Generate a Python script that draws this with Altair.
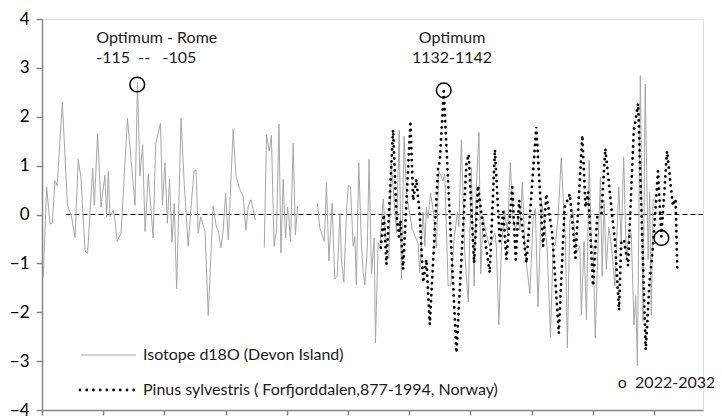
import altair as alt
import pandas as pd

# ---------------- data ----------------
# Isotope d18O (Devon Island); None marks a gap in the record
iso_years = [-495, -481, -467, -458, -447, -438, -417, -396, -379, -365, -352, -341, -324, -314,
             -293, -286, -273, -259, -253, -243, -236, -229, -222, -209, -202, -193, -177, -151,
             -120, -110, -100, -89, -79, -66, -46, -36, -16, -8, 2, 12, 21, 31, 40, 50, 68, 81,
             97, 111, 121, 129, 138, 148, 166, 179, 199, 213, 220, 231, 240, 250, 261, 281, 292,
             308, 322, 333, 342, 353, 372,
             None,
             408, 417, 428, 437, 448, 458, 468, 476, 485, 495, 503, 508, 515, 526, 535, 544,
             None,
             625, 635, 653, 662, 672, 685, 696, 706, 717, 723, 733, 744, 751, 760, 771, 778, 784,
             794, 805, 812, 819, 829, 836, 846, 857, 862, 873, 880, 894, 907, 917, 927, 948, 959,
             968, 979, 989, 1012, 1036, 1043, 1057, 1064, 1070, 1077, 1087, 1098, 1111, 1121,
             1138, 1145, 1159, 1170, 1183, 1197, 1203, 1213, 1227, 1241, 1254, 1265, 1274, 1285,
             1292, 1302, 1315, 1329, 1350, 1356, 1366, 1377, 1390, 1401, 1413, 1424, 1434, 1445,
             1452, 1462, 1472, 1483, 1493, 1506, 1515, 1526, 1540, 1551, 1563, 1577, 1588, 1597,
             1608, 1621, 1632, 1638, 1646, 1656, 1669, 1683, 1697, 1703, 1714, 1724, 1735, 1744,
             1751, 1760, 1771, 1781, 1788, 1796, 1805, 1815, 1826, 1840, 1856, 1866, 1876, 1887,
             1897, 1907, 1918, 1925, 1932, 1944, 1955, 1964, 1976, 1982, 1989, 1996]
iso_values = [-1.29, 0.56, -0.20, -0.17, 0.69, 0.59, 2.30, 0.19, -0.05, -0.48, 1.13, 0.76, -0.75, -0.80,
              0.95, 0.19, 1.66, 0.15, 0.42, 0.80, -0.05, 0.89, -0.05, 0.09, -0.11, -0.55, -0.38, 1.97,
              0.19, 2.70, 0.79, 1.43, -0.35, 0.83, -0.48, 1.43, 1.87, 0.19, 1.06, -0.18, 0.72, -0.57, 0.22, -1.52, 1.97, 0.62,
              -0.65, 0.29, 0.89, 0.91, -0.38, -0.05, -0.35, -2.07, 0.17, -0.28, -0.32, -0.68, -0.32, 0.44, -0.52, 1.74, 0.79,
              0.52, 0.36, -0.32, 0.15, 0.30, -0.11,
              None,
              -0.68, 1.64, 1.30, 1.62, -0.65, -0.32, 1.85, -0.79, 0.72, -0.48, 0.15, -0.05, -0.55, 1.46, -0.42, 0.17,
              None,
              0.23, -0.28, -0.55, 0.64, -0.95, 0.23, -1.32, -1.26, 0.02, -0.92, -1.38, 0.09, 0.59, 0.57, -0.65, -0.45, -1.44,
              1.06, -0.65, -1.19, -1.44, -0.65, 1.13, -1.22, -0.48, -2.63, -0.58, -0.65, 0.32, -0.68, -0.89, 1.06, -0.38, 1.72,
              -1.32, 1.60, 0.42, -0.30, -0.59, -1.19, 0.05, -0.65, 0.15, -0.08, 0.44, 0.09, -0.68, 0.89,
              0.69, 0.83, -1.46, -1.46, -0.52, 0.05, -0.25, 1.53, -0.79, -1.79, 0.96, -1.46, 0.56, 1.68,
              -1.22, -0.05, -0.42, -0.65, -0.38, -0.65, -2.26, -0.65, 0.09, -0.38, 1.06, -0.11, -0.28, -0.05,
              -0.32, 0.66, -0.65, -1.19, -1.62, -0.09, 0.12, -1.89, 0.29, -0.11, -0.65, -2.50, -0.65, -0.62,
              -0.05, 1.16, 0.02, -0.52, -2.73, -0.11, 0.05, -0.79, -0.65, -2.06, -0.55, -2.16, 1.11, -0.60,
              -0.65, -2.53, -0.65, 0.76, -1.26, 0.29, -1.12, -0.25, -0.65, -1.46, 0.57, -0.58, 1.18, -0.92,
              -0.38, -0.38, -2.26, -1.66, -3.10, 2.84, -2.19, 2.67, -0.92, 0.46, -2.06, 0.32]

# Pinus sylvestris (Forfjorddalen)
pinus_years = [884, 896, 907, 934, 948, 958, 964, 975, 1005, 1016, 1029, 1043, 1057, 1070, 1084,
               1118, 1125, 1141, 1193, 1234, 1243, 1265, 1281, 1295, 1329, 1350, 1370, 1384, 1397,
               1421, 1435, 1449, 1479, 1519, 1547, 1560, 1584, 1611, 1635, 1656, 1679, 1707, 1720,
               1731, 1751, 1768, 1785, 1801, 1833, 1840, 1857, 1866, 1877, 1894, 1917, 1935, 1966,
               1982, 1996, 2016, 2030, 2053, 2077, 2088, 2095]
pinus_values = [-0.68, 0.0, -1.02, 1.73, 0.0, -0.45, -0.12, -1.12, 1.91, 0.29, 0.72, 0.0, -1.39, -0.92, -2.25,
                0.96, 1.09, 2.52, -2.83, 1.06, 1.23, -0.99, 0.59, 0.0, -1.19, 1.33, -0.55, 0.05, -0.92,
                0.56, -0.92, 0.29, -0.99, 1.79, -0.65, 0.42, -0.38, -2.43, 0.15, 0.42, -0.89, 1.62, 0.15,
                0.46, -1.46, -0.05, 0.02, 1.35, -0.21, -0.52, -1.96, -0.55, -0.52, -1.05, 1.70, 2.27, -2.77,
                -1.36, -0.65, 0.89, -0.45, 1.30, 0.18, 0.32, -1.11]

# circled points
circle_years = [-111, 1141, 2030]
circle_values = [2.66, 2.54, -0.48]

# annotations
note_left_texts = ["Optimum - Rome", "-115\u00a0\u00a0--\u00a0\u00a0\u00a0-105", "o\u00a0\u00a02022-2032"]
note_left_years = [-278, -278, 1852]
note_left_values = [3.62, 3.20, -3.45]
note_center_texts = ["Optimum", "1132-1142"]
note_center_years = [1175, 1175]
note_center_values = [3.62, 3.20]

legend_labels = ["Isotope d18O (Devon Island)", "Pinus sylvestris ( Forfjorddalen,877-1994, Norway)"]

zero_line_start = [-400]
zero_line_end = [2200]

y_ticks = [-4, -3, -2, -1, 0, 1, 2, 3, 4]
x_ticks = [-500, -250, 0, 250, 500, 750, 1000, 1250, 1500, 1750, 2000]
x_domain = [-500, 2200]
y_domain = [-4, 4]

# ---------------- tables ----------------
rows = []
seg = 0
for yr, v in zip(iso_years, iso_values):
    if yr is None:
        seg += 1
        continue
    rows.append({"year": yr, "value": v, "seg": seg})
iso_df = pd.DataFrame(rows)
pinus_df = pd.DataFrame({"year": pinus_years, "value": pinus_values})
circle_df = pd.DataFrame({"year": circle_years, "value": circle_values})
note_left_df = pd.DataFrame({"year": note_left_years, "value": note_left_values, "text": note_left_texts})
note_center_df = pd.DataFrame({"year": note_center_years, "value": note_center_values, "text": note_center_texts})
zero_df = pd.DataFrame({"x1": zero_line_start, "x2": zero_line_end, "y": [0]})

FONT = "Lato"
TEXT_SIZE = 16
TEXT_COLOR = "#1a1a1a"
AXIS_GRAY = "#868686"

xs = alt.Scale(domain=x_domain, nice=False, zero=False)
ys = alt.Scale(domain=y_domain, nice=False, zero=False)

x_axis = alt.Axis(values=x_ticks, labels=False, tickSize=5, title=None, grid=False,
                  domainColor=AXIS_GRAY, tickColor=AXIS_GRAY, domainWidth=1.5, tickWidth=1.5)
y_axis = alt.Axis(values=y_ticks, tickSize=6, labelPadding=7, title=None, grid=False,
                  domainColor=AXIS_GRAY, tickColor=AXIS_GRAY, domainWidth=1.5, tickWidth=1.5,
                  labelFont=FONT, labelFontSize=17, labelColor="#000000")

iso = alt.Chart(iso_df).mark_line(color="#a6a6a6", strokeWidth=1).encode(
    x=alt.X("year:Q", scale=xs, axis=x_axis),
    y=alt.Y("value:Q", scale=ys, axis=y_axis),
    detail="seg:N",
)

pinus = alt.Chart(pinus_df).mark_line(
    color="#000000", strokeWidth=2.8, strokeDash=[0.01, 6.0], strokeCap="round"
).encode(
    x=alt.X("year:Q", scale=xs),
    y=alt.Y("value:Q", scale=ys),
)

zero = alt.Chart(zero_df).mark_rule(color="#000000", strokeWidth=1, strokeDash=[5, 3]).encode(
    x=alt.X("x1:Q", scale=xs), x2="x2:Q", y=alt.Y("y:Q", scale=ys)
)

circles = alt.Chart(circle_df).mark_point(
    shape="circle", size=216, filled=False, color="#000000", strokeWidth=1.5, opacity=1
).encode(x=alt.X("year:Q", scale=xs), y=alt.Y("value:Q", scale=ys))

notes_left = alt.Chart(note_left_df).mark_text(
    align="left", baseline="middle", font=FONT, fontSize=TEXT_SIZE, color=TEXT_COLOR
).encode(x=alt.X("year:Q", scale=xs), y=alt.Y("value:Q", scale=ys), text="text:N")

notes_center = alt.Chart(note_center_df).mark_text(
    align="center", baseline="middle", font=FONT, fontSize=TEXT_SIZE, color=TEXT_COLOR
).encode(x=alt.X("year:Q", scale=xs), y=alt.Y("value:Q", scale=ys), text="text:N")

# legend drawn inside the plot area
leg_df1 = pd.DataFrame({"label": [legend_labels[0]]})
leg_df2 = pd.DataFrame({"label": [legend_labels[1]]})
leg_line1 = alt.Chart(leg_df1).mark_rule(color="#a6a6a6", strokeWidth=1).encode(
    x=alt.value(39), x2=alt.value(94), y=alt.value(336))
leg_line2 = alt.Chart(leg_df2).mark_rule(
    color="#000000", strokeWidth=2.8, strokeDash=[0.01, 6.7], strokeCap="round"
).encode(x=alt.value(38), x2=alt.value(93), y=alt.value(371))
leg_text1 = alt.Chart(leg_df1).mark_text(
    align="left", baseline="middle", font=FONT, fontSize=TEXT_SIZE, color=TEXT_COLOR
).encode(x=alt.value(101), y=alt.value(336), text="label:N")
leg_text2 = alt.Chart(leg_df2).mark_text(
    align="left", baseline="middle", font=FONT, fontSize=TEXT_SIZE, color=TEXT_COLOR
).encode(x=alt.value(101), y=alt.value(371), text="label:N")

chart = alt.layer(
    zero, iso, pinus, circles, notes_left, notes_center,
    leg_line1, leg_line2, leg_text1, leg_text2
).properties(
    width=661, height=391,
    autosize=alt.AutoSizeParams(type="none"),
    padding={"left": 34, "top": 11, "right": 11, "bottom": 10},
).configure_view(stroke=None).configure(background="white")

chart.save("out.html", embed_options={"renderer": "svg", "actions": False})
